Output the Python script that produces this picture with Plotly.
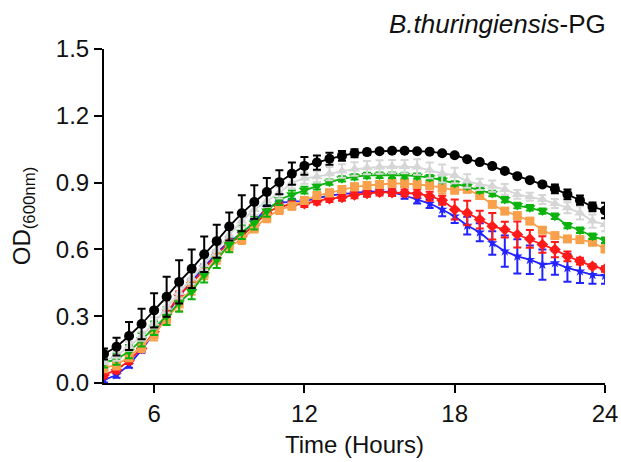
import plotly.graph_objects as go

time_h = [4 + 0.5 * i for i in range(41)]

black = [0.13, 0.163, 0.211, 0.265, 0.326, 0.387, 0.454, 0.513, 0.578, 0.637,
         0.703, 0.762, 0.813, 0.858, 0.902, 0.94, 0.975, 0.99, 1.007, 1.02,
         1.032, 1.037, 1.041, 1.043, 1.043, 1.041, 1.039, 1.032, 1.023, 1.005,
         0.992, 0.974, 0.952, 0.929, 0.911, 0.892, 0.872, 0.847, 0.821, 0.791, 0.775]
black_err = [0.025, 0.04, 0.063, 0.068, 0.077, 0.09, 0.097, 0.086, 0.08, 0.074,
             0.063, 0.081, 0.075, 0.063, 0.054, 0.05, 0.04, 0.032, 0.027, 0.022,
             0.018, 0.012, 0.008, 0.006, 0.005, 0.005, 0.006, 0.006, 0.007, 0.008,
             0.008, 0.01, 0.008, 0.008, 0.008, 0.01, 0.02, 0.022, 0.021, 0.02, 0.035]

gray = [0.10, 0.12, 0.165, 0.21, 0.27, 0.34, 0.405, 0.47, 0.532, 0.598,
        0.665, 0.727, 0.779, 0.817, 0.854, 0.899, 0.92, 0.926, 0.94, 0.952,
        0.961, 0.967, 0.970, 0.972, 0.972, 0.97, 0.955, 0.941, 0.932, 0.907,
        0.892, 0.884, 0.869, 0.847, 0.836, 0.824, 0.806, 0.787, 0.764, 0.727, 0.712]
gray_err = [0.015, 0.02, 0.02, 0.02, 0.025, 0.025, 0.025, 0.025, 0.025, 0.025,
            0.025, 0.025, 0.025, 0.025, 0.025, 0.025, 0.025, 0.025, 0.03, 0.03,
            0.03, 0.03, 0.03, 0.03, 0.03, 0.035, 0.035, 0.04, 0.035, 0.03,
            0.025, 0.025, 0.025, 0.02, 0.018, 0.02, 0.02, 0.025, 0.03, 0.03, 0.03]

green = [0.09, 0.107, 0.141, 0.194, 0.246, 0.30, 0.36, 0.411, 0.486, 0.554,
         0.622, 0.677, 0.719, 0.772, 0.824, 0.845, 0.866, 0.884, 0.902, 0.917,
         0.926, 0.932, 0.933, 0.933, 0.932, 0.929, 0.922, 0.911, 0.896, 0.884,
         0.866, 0.851, 0.824, 0.797, 0.787, 0.772, 0.749, 0.707, 0.686, 0.659, 0.641]
green_err = [0.02, 0.025, 0.03, 0.03, 0.03, 0.04, 0.04, 0.035, 0.035, 0.037,
             0.035, 0.03, 0.03, 0.025, 0.025, 0.02, 0.015, 0.015, 0.012, 0.012,
             0.012, 0.012, 0.012, 0.012, 0.012, 0.012, 0.012, 0.012, 0.01, 0.01,
             0.012, 0.012, 0.012, 0.012, 0.012, 0.012, 0.012, 0.012, 0.012, 0.012, 0.012]

orange = [0.068, 0.081, 0.118, 0.164, 0.216, 0.29, 0.355, 0.426, 0.491, 0.561,
          0.614, 0.644, 0.696, 0.742, 0.779, 0.794, 0.82, 0.842, 0.854, 0.869,
          0.881, 0.887, 0.892, 0.896, 0.896, 0.892, 0.887, 0.876, 0.866, 0.87,
          0.842, 0.802, 0.772, 0.752, 0.727, 0.686, 0.662, 0.647, 0.644, 0.632, 0.602]
orange_err = [0.02, 0.02, 0.02, 0.025, 0.025, 0.025, 0.03, 0.03, 0.025, 0.025,
              0.025, 0.02, 0.02, 0.02, 0.02, 0.015, 0.015, 0.015, 0.015, 0.015,
              0.015, 0.015, 0.015, 0.015, 0.015, 0.015, 0.015, 0.025, 0.015, 0.015,
              0.012, 0.012, 0.012, 0.012, 0.012, 0.012, 0.012, 0.012, 0.012, 0.012, 0.015]

red = [0.036, 0.059, 0.10, 0.155, 0.23, 0.31, 0.396, 0.449, 0.509, 0.577,
       0.63, 0.659, 0.71, 0.764, 0.794, 0.80, 0.805, 0.817, 0.828, 0.834,
       0.845, 0.851, 0.857, 0.855, 0.854, 0.851, 0.839, 0.821, 0.779, 0.764,
       0.734, 0.704, 0.689, 0.667, 0.647, 0.622, 0.599, 0.569, 0.547, 0.524, 0.512]
red_err = [0.012, 0.015, 0.015, 0.015, 0.015, 0.015, 0.015, 0.015, 0.015, 0.015,
           0.015, 0.015, 0.015, 0.015, 0.015, 0.015, 0.015, 0.015, 0.015, 0.015,
           0.015, 0.015, 0.015, 0.015, 0.015, 0.018, 0.02, 0.02, 0.045, 0.055,
           0.04, 0.06, 0.035, 0.058, 0.04, 0.037, 0.034, 0.022, 0.015, 0.01, 0.012]

blue = [0.014, 0.036, 0.081, 0.149, 0.225, 0.31, 0.389, 0.456, 0.52, 0.584,
        0.637, 0.67, 0.725, 0.787, 0.809, 0.815, 0.817, 0.83, 0.842, 0.848,
        0.854, 0.859, 0.861, 0.857, 0.842, 0.824, 0.806, 0.779, 0.749, 0.707,
        0.677, 0.629, 0.592, 0.569, 0.554, 0.532, 0.539, 0.517, 0.502, 0.486, 0.482]
blue_err = [0.012, 0.012, 0.012, 0.012, 0.012, 0.012, 0.012, 0.012, 0.012, 0.012,
            0.012, 0.012, 0.012, 0.012, 0.012, 0.012, 0.012, 0.012, 0.012, 0.012,
            0.012, 0.012, 0.012, 0.012, 0.015, 0.018, 0.02, 0.03, 0.03, 0.04,
            0.04, 0.053, 0.07, 0.077, 0.064, 0.068, 0.053, 0.062, 0.053, 0.04, 0.036]

x_ticks = [6, 12, 18, 24]
y_ticks = [0.0, 0.3, 0.6, 0.9, 1.2, 1.5]

series = [
    ("blue", blue, blue_err, "#2323ff", "star", 8),
    ("red", red, red_err, "#ff1a1a", "diamond", 9),
    ("orange", orange, orange_err, "#f9a04c", "square", 9),
    ("green", green, green_err, "#0cb30c", "triangle-down", 10),
    ("gray", gray, gray_err, "#d6d6d6", "triangle-up", 10),
    ("black", black, black_err, "#000000", "circle", 10),
]

fig = go.Figure()
for name, vals, errs, col, sym, sz in series:
    fig.add_trace(go.Scatter(
        x=time_h, y=vals, name=name, mode="lines+markers",
        line=dict(color=col, width=1.8),
        marker=dict(color=col, symbol=sym, size=sz, line=dict(width=0)),
        error_y=dict(type="data", array=errs, visible=True, color=col,
                     thickness=2, width=4),
        showlegend=False,
    ))

font_family = "Arial, Liberation Sans, sans-serif"
fig.update_layout(
    width=621, height=462,
    margin=dict(l=104, r=16, t=49, b=79),
    paper_bgcolor="white", plot_bgcolor="white",
    font=dict(family=font_family, color="#111111", size=24),
    xaxis=dict(range=[4, 24], tickvals=x_ticks, ticktext=[str(v) for v in x_ticks],
               automargin=False,
               showline=True, linecolor="black", linewidth=2,
               ticks="outside", ticklen=8, tickwidth=2, tickcolor="black",
               showgrid=False, zeroline=False, tickfont=dict(size=24),
               title=dict(text="Time (Hours)", font=dict(size=24), standoff=10)),
    yaxis=dict(range=[0, 1.5], tickvals=y_ticks, ticktext=[f"{v:.1f}" for v in y_ticks],
               automargin=False,
               showline=True, linecolor="black", linewidth=2,
               ticks="outside", ticklen=8, tickwidth=2, tickcolor="black",
               showgrid=False, zeroline=False, tickfont=dict(size=24),
               title=dict(text="OD<sub>(600nm)</sub>", font=dict(size=24), standoff=18)),
    annotations=[dict(text="<i>B.thuringiensis</i>-PG", xref="paper", yref="paper",
                      x=1.006, y=1.076, xanchor="right", yanchor="middle",
                      showarrow=False, font=dict(size=26))],
)

fig.write_html("out.html")
